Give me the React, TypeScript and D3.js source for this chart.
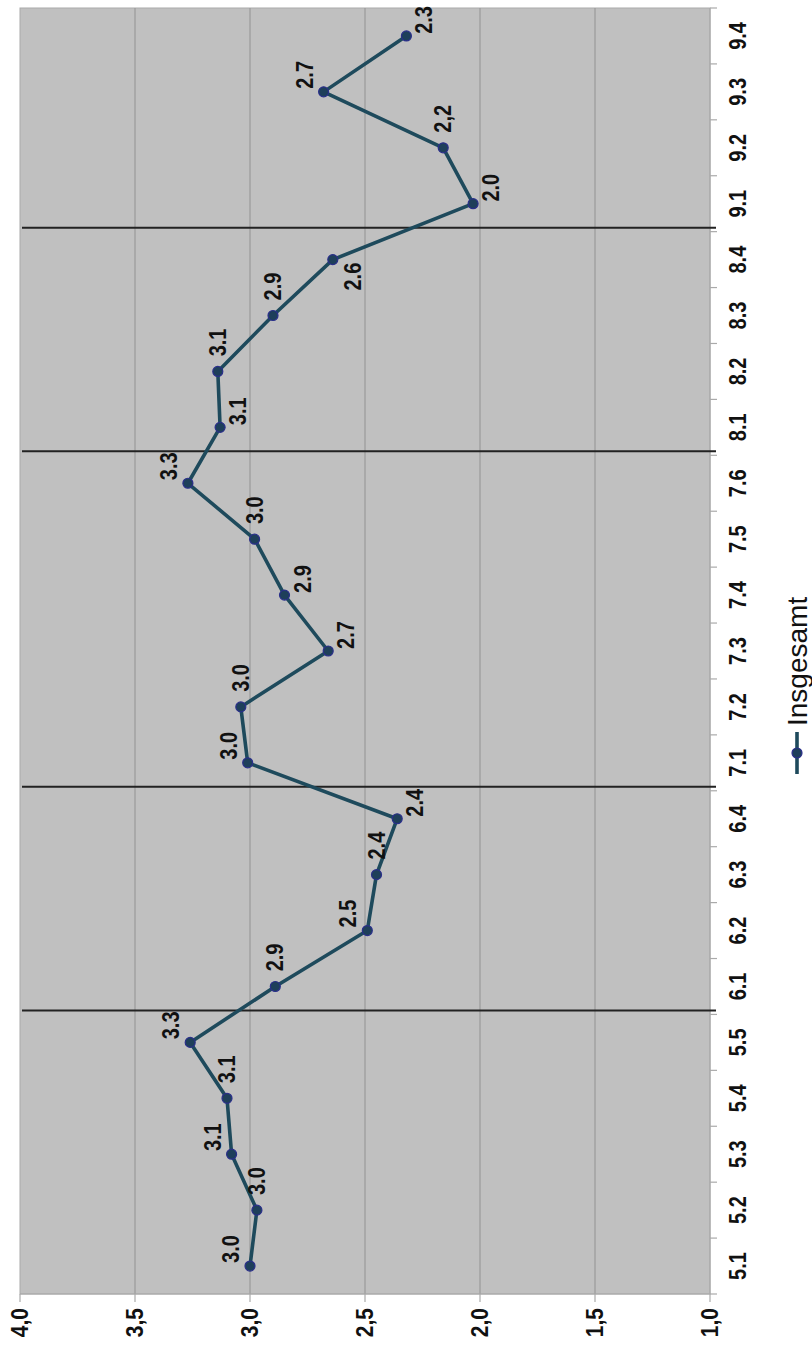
import React, { useEffect, useRef } from "react";
import * as d3 from "d3";

// chart is drawn turned by 90 degrees, like the scanned original
const categories = ["5.1", "5.2", "5.3", "5.4", "5.5", "6.1", "6.2", "6.3", "6.4", "7.1", "7.2", "7.3", "7.4", "7.5", "7.6", "8.1", "8.2", "8.3", "8.4", "9.1", "9.2", "9.3", "9.4"];
const values = [3.0, 2.97, 3.08, 3.1, 3.26, 2.89, 2.49, 2.45, 2.36, 3.01, 3.04, 2.66, 2.85, 2.98, 3.27, 3.13, 3.14, 2.9, 2.64, 2.03, 2.16, 2.68, 2.32];
const labels = ["3.0", "3.0", "3.1", "3.1", "3.3", "2.9", "2.5", "2.4", "2.4", "3.0", "3.0", "2.7", "2.9", "3.0", "3.3", "3.1", "3.1", "2.9", "2.6", "2.0", "2,2", "2.7", "2.3"];
const labelSide = ["L", "T", "L", "T", "L", "T", "L", "T", "R", "L", "T", "R", "R", "T", "L", "R", "T", "T", "B", "R", "T", "L", "R"];
const valueTicks = [4, 3.5, 3, 2.5, 2, 1.5, 1];
const seriesName = "Insgesamt";

const W = 812;
const H = 1352;
const plot = { left: 20, right: 710, top: 8, bottom: 1294 };
const sideOffset: Record<string, [number, number]> = {
  L: [-19, -17],
  T: [0, -29],
  R: [18, -16],
  B: [20, 17],
};

const drawChart = (node: SVGSVGElement) => {
  const svg = d3.select(node);
  svg.selectAll("*").remove();

  const x = d3.scaleLinear().domain([4, 1]).range([plot.left, plot.right]);
  const y = d3.scaleBand().domain(categories).range([plot.bottom, plot.top]).padding(0);
  const bw = y.bandwidth();
  const cy = (c: string) => (y(c) as number) + bw / 2;

  svg.append("rect")
    .attr("x", plot.left).attr("y", plot.top)
    .attr("width", plot.right - plot.left).attr("height", plot.bottom - plot.top)
    .attr("fill", "#c0c0c0").attr("stroke", "#a9a9a9").attr("stroke-width", 1);

  // gridlines
  svg.append("g").selectAll("line")
    .data(valueTicks.filter(v => v !== 4 && v !== 1))
    .join("line")
      .attr("x1", d => x(d)).attr("x2", d => x(d))
      .attr("y1", plot.top).attr("y2", plot.bottom)
      .attr("stroke", "#999").attr("stroke-width", 1.2);

  // value axis (bottom)
  const ax = svg.append("g").attr("stroke", "#aaa").attr("stroke-width", 1.2);
  ax.append("line").attr("x1", plot.left).attr("x2", plot.right).attr("y1", plot.bottom).attr("y2", plot.bottom);
  ax.selectAll("line.t").data(valueTicks).join("line").attr("class", "t")
    .attr("x1", d => x(d)).attr("x2", d => x(d)).attr("y1", plot.bottom).attr("y2", plot.bottom + 8);

  // category axis (right)
  const ay = svg.append("g").attr("stroke", "#aaa").attr("stroke-width", 1.2);
  ay.append("line").attr("x1", plot.right).attr("x2", plot.right).attr("y1", plot.top).attr("y2", plot.bottom);
  ay.selectAll("line.t").data(categories.concat(["end"])).join("line").attr("class", "t")
    .attr("x1", plot.right).attr("x2", plot.right + 7)
    .attr("y1", (d, i) => plot.bottom - i * bw).attr("y2", (d, i) => plot.bottom - i * bw);

  const fmt = (v: number) => d3.format(".1f")(v).replace(".", ",");
  svg.append("g")
    .attr("font-family", "'Liberation Sans', Arial, sans-serif")
    .attr("font-weight", "bold").attr("font-size", 21).attr("fill", "#111")
    .selectAll("text").data(valueTicks).join("text")
      .attr("transform", d => `translate(${x(d)},${plot.bottom + 14}) scale(1.15,1) rotate(-90)`)
      .attr("text-anchor", "end").attr("dominant-baseline", "central")
      .text(d => fmt(d));

  svg.append("g")
    .attr("font-family", "'Liberation Sans', Arial, sans-serif")
    .attr("font-weight", "bold").attr("font-size", 20).attr("fill", "#111")
    .selectAll("text").data(categories).join("text")
      .attr("transform", d => `translate(738,${cy(d)}) scale(1.15,1) rotate(-90)`)
      .attr("text-anchor", "middle").attr("dominant-baseline", "central")
      .text(d => d);

  // group separators
  const firsts = categories.filter((c, i) => i > 0 && c.split(".")[0] !== categories[i - 1].split(".")[0]);
  svg.append("g").selectAll("line").data(firsts).join("line")
    .attr("x1", plot.left + 2).attr("x2", plot.right + 6)
    .attr("y1", d => (y(d) as number) + bw - 4).attr("y2", d => (y(d) as number) + bw - 4)
    .attr("stroke", "#222").attr("stroke-width", 2);

  const pts = categories.map((c, i) => ({ c, v: values[i], label: labels[i], side: labelSide[i] }));

  svg.append("path")
    .datum(pts)
    .attr("fill", "none").attr("stroke", "#1e4a5c").attr("stroke-width", 3.6)
    .attr("stroke-linejoin", "round")
    .attr("d", d3.line<any>().x(d => x(d.v)).y(d => cy(d.c)));

  svg.append("g").selectAll("circle").data(pts).join("circle")
    .attr("cx", d => x(d.v)).attr("cy", d => cy(d.c)).attr("r", 5)
    .attr("fill", "#1e3f5a").attr("stroke", "#2a2f8a").attr("stroke-width", 1.2);

  svg.append("g")
    .attr("font-family", "'Liberation Sans', Arial, sans-serif")
    .attr("font-weight", "bold").attr("font-size", 20).attr("fill", "#111")
    .selectAll("text").data(pts).join("text")
      .attr("transform", d => {
        const [dx, dy] = sideOffset[d.side];
        return `translate(${x(d.v) + dx},${cy(d.c) + dy}) scale(1.15,1) rotate(-90)`;
      })
      .attr("text-anchor", "middle").attr("dominant-baseline", "central")
      .text(d => d.label);

  // legend
  const lg = svg.append("g").attr("transform", "translate(797,753)");
  lg.append("line").attr("x1", 0).attr("x2", 0).attr("y1", -21).attr("y2", 21)
    .attr("stroke", "#1e4a5c").attr("stroke-width", 3.6);
  lg.append("circle").attr("r", 5).attr("fill", "#1e3f5a").attr("stroke", "#2a2f8a").attr("stroke-width", 1.2);
  lg.append("text")
    .attr("transform", "translate(0,-27) rotate(-90)")
    .attr("font-family", "'Liberation Sans', Arial, sans-serif")
    .attr("font-size", 28).attr("fill", "#111")
    .attr("text-anchor", "start").attr("dominant-baseline", "central")
    .text(seriesName);
};

const App = () => {
  const ref = useRef<SVGSVGElement>(null);
  useEffect(() => {
    if (ref.current) drawChart(ref.current);
  }, []);
  return (
    <svg ref={ref} width={W} height={H} style={{ position: "absolute", left: 0, top: 0, background: "#fff" }} />
  );
};

export default App;
